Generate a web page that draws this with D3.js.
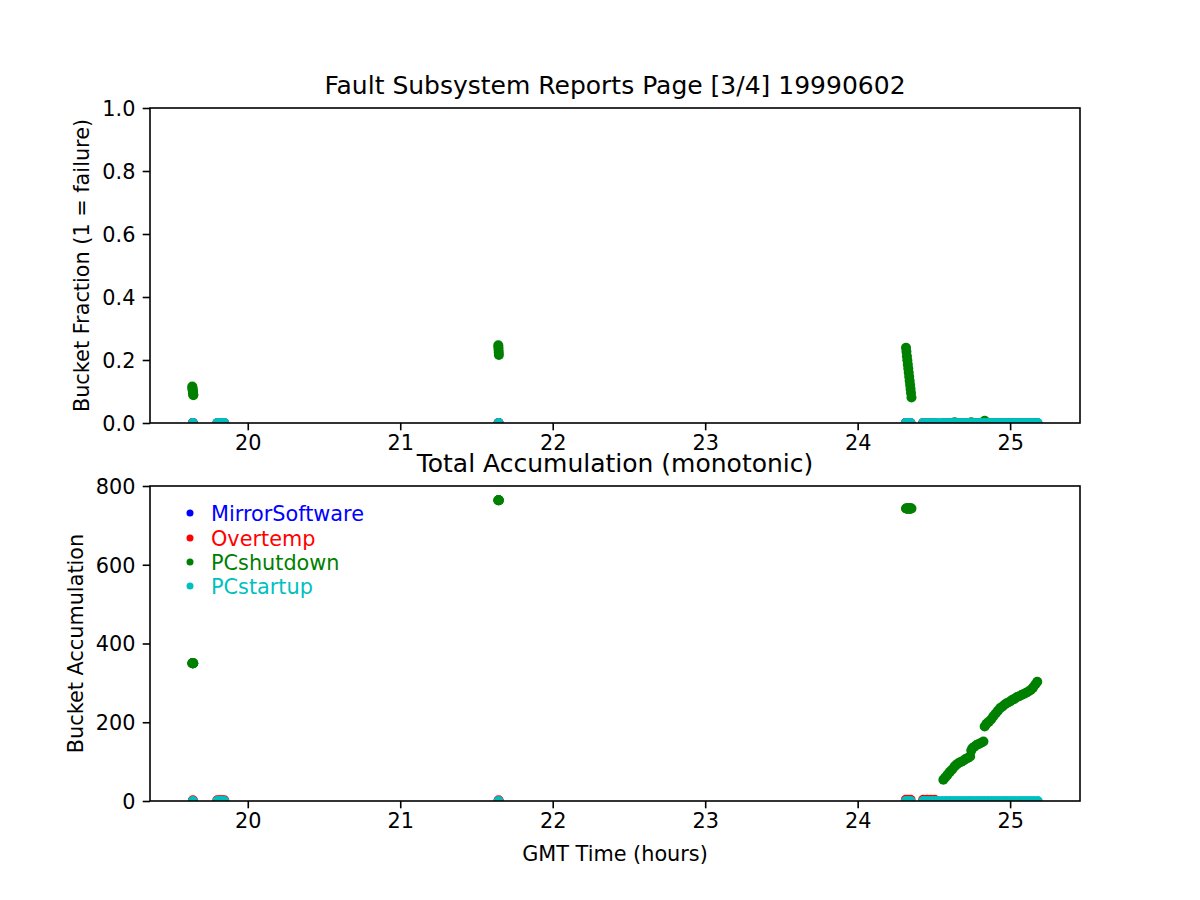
<!DOCTYPE html>
<html><head><meta charset="utf-8">
<script src="https://cdn.jsdelivr.net/npm/d3@7"></script>
<style>body{margin:0;background:#fff}svg{display:block}text{font-family:"DejaVu Sans",sans-serif}</style>
</head><body><svg id="chart" width="1200" height="900"></svg>
<script>
// ---------------- data ----------------
const titleTop = "Fault Subsystem Reports Page [3/4] 19990602";
const titleBottom = "Total Accumulation (monotonic)";
const xLabel = "GMT Time (hours)";
const yLabelTop = "Bucket Fraction (1 = failure)";
const yLabelBottom = "Bucket Accumulation";
const seriesNames = ["MirrorSoftware", "Overtemp", "PCshutdown", "PCstartup"];
const seriesColors = ["#0000ff", "#ff0000", "#008000", "#00bfbf"];
const xTicks = [20, 21, 22, 23, 24, 25];
const yTicksTop = [0, 0.2, 0.4, 0.6, 0.8, 1.0];
const yTicksBottom = [0, 200, 400, 600, 800];

// MirrorSoftware (hidden under the others)
const mirrorTime  = [19.640, 21.645, 24.316, 24.430];
const mirrorFrac  = [0, 0, 0, 0];
const mirrorAccum = [0, 0, 0, 0];

// Overtemp
const overtempTime  = [19.640, 19.800, 19.815, 19.830, 19.846, 21.645, 24.316, 24.331, 24.347, 24.430, 24.455, 24.480, 24.505];
const overtempFrac  = [0, 0, 0, 0, 0, 0, 0, 0, 0, 0, 0, 0, 0];
const overtempAccum = [2, 2, 2, 2, 2, 2, 3, 3, 3, 3, 3, 3, 3];

// PCshutdown
const shutdownTime = [
  19.636, 19.637, 19.638, 19.639, 19.640, 19.641, 19.642, 19.643,
  21.643, 21.644, 21.645, 21.646, 21.647,
  24.317, 24.320, 24.323, 24.326, 24.329, 24.332, 24.335, 24.338, 24.341, 24.344, 24.347, 24.350, 24.353,
  24.562, 24.575, 24.590, 24.605, 24.620, 24.636, 24.650, 24.665, 24.680, 24.695, 24.710, 24.725, 24.738, 24.745,
  24.752, 24.765, 24.780, 24.795, 24.810, 24.825, 24.833, 24.845, 24.860, 24.875, 24.890, 24.905, 24.920, 24.935,
  24.950, 24.965, 24.980, 25.000, 25.015, 25.030, 25.045, 25.060, 25.075, 25.090, 25.105, 25.120, 25.135, 25.150,
  25.165, 25.178];
const shutdownFrac = [
  0.116, 0.112, 0.108, 0.104, 0.099, 0.095, 0.091, 0.088,
  0.247, 0.240, 0.232, 0.224, 0.216,
  0.239, 0.226, 0.212, 0.199, 0.186, 0.173, 0.160, 0.147, 0.134, 0.121, 0.108, 0.095, 0.081,
  0, 0, 0, 0, 0, 0.002, 0, 0, 0, 0, 0, 0, 0, 0.002,
  0, 0, 0, 0, 0, 0, 0.007, 0, 0, 0, 0, 0, 0, 0,
  0, 0, 0, 0, 0, 0, 0, 0, 0, 0, 0, 0, 0, 0,
  0, 0];
const shutdownAccum = [
  350, 350, 350, 350, 350, 350, 350, 350,
  764, 764, 764, 764, 764,
  743, 743, 743, 743, 743, 743, 743, 743, 743, 743, 743, 743, 743,
  54, 60, 67, 74, 80, 88, 93, 97, 100, 103, 107, 110, 113, 128,
  134, 138, 142, 145, 148, 151, 189, 196, 201, 207, 215, 222, 229, 236,
  240, 245, 249, 253, 257, 260, 264, 266, 269, 272, 275, 278, 282, 288,
  296, 303];

// PCstartup
const startupTime = [
  19.640, 19.800, 19.815, 19.830, 19.846, 21.645, 24.316, 24.331, 24.347,
  24.430, 24.455, 24.480, 24.505, 24.530, 24.555, 24.580, 24.605, 24.630, 24.655, 24.680,
  24.705, 24.730, 24.755, 24.780, 24.805, 24.830, 24.855, 24.880, 24.905, 24.930, 24.955,
  24.980, 25.005, 25.030, 25.055, 25.080, 25.105, 25.130, 25.155, 25.181];
const startupFrac = [
  0, 0, 0, 0, 0, 0, 0, 0, 0,
  0, 0, 0, 0, 0, 0, 0, 0, 0, 0, 0,
  0, 0, 0, 0, 0, 0, 0, 0, 0, 0, 0,
  0, 0, 0, 0, 0, 0, 0, 0, 0];
const startupAccum = [
  0, 0, 0, 0, 0, 0, 0, 0, 0,
  0, 0, 0, 0, 0, 0, 0, 0, 0, 0, 0,
  0, 0, 0, 0, 0, 0, 0, 0, 0, 0, 0,
  0, 0, 0, 0, 0, 0, 0, 0, 0];

// ---------------- build ----------------
const seriesList = [
  {name: seriesNames[0], color: seriesColors[0], t: mirrorTime, f: mirrorFrac, a: mirrorAccum},
  {name: seriesNames[1], color: seriesColors[1], t: overtempTime, f: overtempFrac, a: overtempAccum},
  {name: seriesNames[2], color: seriesColors[2], t: shutdownTime, f: shutdownFrac, a: shutdownAccum},
  {name: seriesNames[3], color: seriesColors[3], t: startupTime, f: startupFrac, a: startupAccum}
];

const svg = d3.select("#chart");
svg.append("rect").attr("width", 1200).attr("height", 900).attr("fill", "#fff");

const L = 150, R = 1080;
const panels = [
  {top: 108, bottom: 423, domain: [0, 1], ticks: yTicksTop, fmt: d3.format(".1f"), key: "f",
   title: titleTop, titleY: 94, ylabel: yLabelTop, ylabelX: 89},
  {top: 486, bottom: 801, domain: [0, 800], ticks: yTicksBottom, fmt: d3.format("d"), key: "a",
   title: titleBottom, titleY: 472, ylabel: yLabelBottom, ylabelX: 83}
];

const allT = seriesList.flatMap(s => s.t);
const [tmin, tmax] = d3.extent(allT);
const pad = (tmax - tmin) * 0.05;
const x = d3.scaleLinear().domain([tmin - pad, tmax + pad]).range([L, R]);

const fontTick = 20.8;
const fontLabel = 20.8;
const fontTitle = 25;
const R_MARK = 5;

panels.forEach((p, i) => {
  const y = d3.scaleLinear().domain(p.domain).range([p.bottom, p.top]);
  const g = svg.append("g");
  const clipId = "clip" + i;
  svg.append("clipPath").attr("id", clipId).append("rect")
    .attr("x", L).attr("y", p.top).attr("width", R - L).attr("height", p.bottom - p.top);

  const marks = g.append("g").attr("clip-path", `url(#${clipId})`);
  seriesList.forEach(s => {
    marks.append("g").selectAll("circle").data(s.t.map((t, k) => [t, s[p.key][k]]))
      .join("circle")
      .attr("cx", d => x(d[0])).attr("cy", d => y(d[1])).attr("r", R_MARK)
      .attr("fill", s.color);
  });

  // axes
  const xAxis = g.append("g").attr("transform", `translate(0,${p.bottom})`)
    .call(d3.axisBottom(x).tickValues(xTicks).tickFormat(d3.format("d")).tickSize(7.3).tickPadding(7.3));
  const yAxis = g.append("g").attr("transform", `translate(${L},0)`)
    .call(d3.axisLeft(y).tickValues(p.ticks).tickFormat(p.fmt).tickSize(7.3).tickPadding(7.3));
  [xAxis, yAxis].forEach(a => {
    a.select(".domain").remove();
    a.selectAll(".tick line").attr("stroke", "#000").attr("stroke-width", 1.6);
    a.selectAll(".tick text").attr("font-family", "DejaVu Sans").attr("font-size", fontTick).attr("fill", "#000");
  });
  xAxis.selectAll(".tick text").attr("dy", null).attr("y", 26.5);
  yAxis.selectAll(".tick text").attr("dy", "0.35em");

  // frame
  g.append("rect").attr("x", L).attr("y", p.top).attr("width", R - L).attr("height", p.bottom - p.top)
    .attr("fill", "none").attr("stroke", "#000").attr("stroke-width", 1.6);

  // title
  g.append("text").attr("x", (L + R) / 2).attr("y", p.titleY).attr("text-anchor", "middle")
    .attr("font-size", fontTitle).attr("fill", "#000").text(p.title);

  // y label
  g.append("text").attr("transform", `translate(${p.ylabelX},${(p.top + p.bottom) / 2}) rotate(-90)`)
    .attr("text-anchor", "middle").attr("font-size", fontLabel).attr("fill", "#000").text(p.ylabel);
});

// x label
svg.append("text").attr("x", (L + R) / 2).attr("y", 861).attr("text-anchor", "middle")
  .attr("font-size", fontLabel).attr("fill", "#000").text(xLabel);

// legend
const legendRows = [513, 538, 562, 586];
const lg = svg.append("g");
seriesList.forEach((s, k) => {
  lg.append("circle").attr("cx", 190).attr("cy", legendRows[k]).attr("r", 3.5).attr("fill", s.color);
  lg.append("text").attr("x", 211).attr("y", legendRows[k] + 7.5).attr("font-size", fontLabel)
    .attr("fill", s.color).text(s.name);
});
</script></body></html>
